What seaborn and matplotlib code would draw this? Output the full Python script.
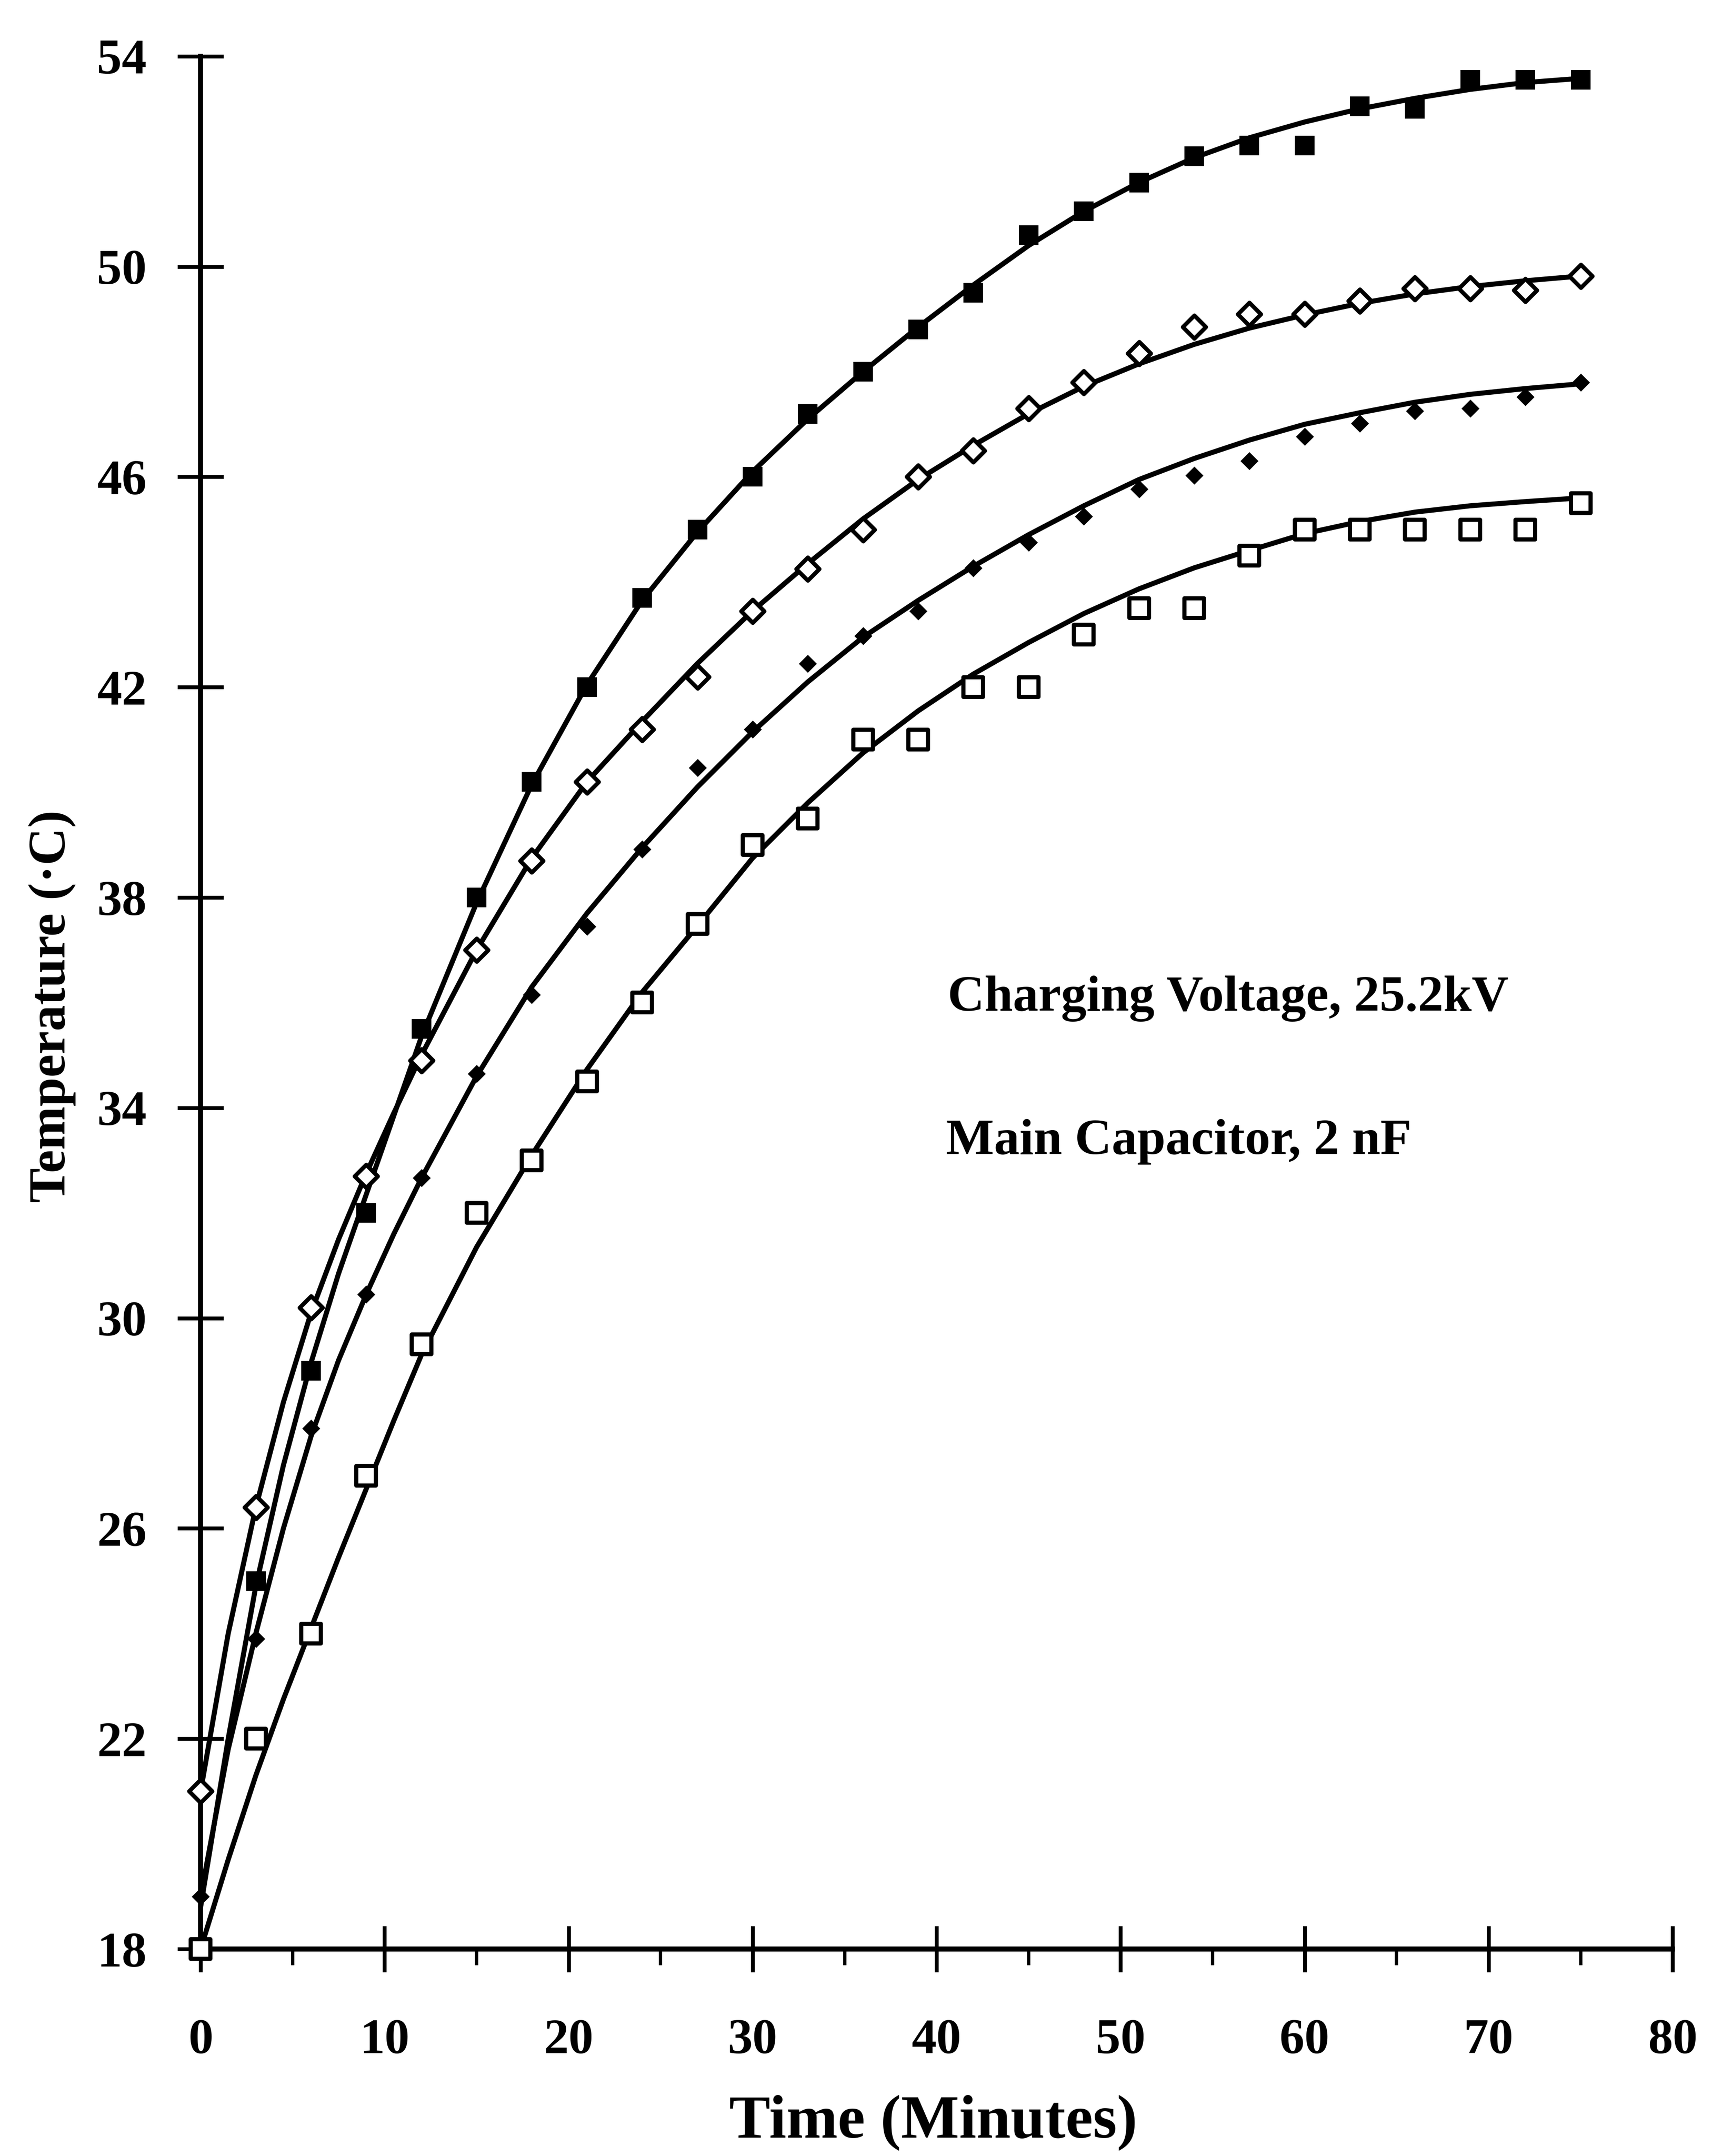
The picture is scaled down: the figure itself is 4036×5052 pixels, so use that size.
import matplotlib
matplotlib.use("Agg")
import matplotlib.pyplot as plt
import seaborn as sns
import pandas as pd
from matplotlib.ticker import FixedLocator

# ---------------- data ----------------
time_min = [0, 3, 6, 9, 12, 15, 18, 21, 24, 27, 30, 33, 36, 39, 42, 45,
            48, 51, 54, 57, 60, 63, 66, 69, 72, 75]

temp_filled_square = [18, 25, 29, 32, 35.5, 38, 40.2, 42, 43.7, 45, 46, 47.2,
                      48, 48.8, 49.5, 50.6, 51.05, 51.6, 52.1, 52.3, 52.3,
                      53.05, 53.0, 53.55, 53.55, 53.55]
temp_open_diamond = [21, 26.4, 30.2, 32.7, 34.9, 37, 38.7, 40.2, 41.2, 42.2,
                     43.45, 44.25, 45.0, 46.0, 46.5, 47.3, 47.8, 48.35, 48.85,
                     49.1, 49.1, 49.35, 49.58, 49.58, 49.55, 49.82]
temp_filled_diamond = [19, 23.9, 27.9, 30.45, 32.67, 34.65, 36.15, 37.45,
                       38.92, 40.47, 41.2, 42.45, 42.98, 43.45, 44.27, 44.75,
                       45.25, 45.77, 46.03, 46.3, 46.77, 47.02, 47.25, 47.3,
                       47.52, 47.8]
temp_open_square = [18, 22, 24, 27, 29.5, 32, 33, 34.5, 36, 37.5, 39, 39.5,
                    41, 41, 42, 42, 43, 43.5, 43.5, 44.5, 45, 45, 45, 45, 45,
                    45.5]

# fitted curves at these times
fit_time = [0, 1.5, 3, 4.5, 6, 7.5, 9, 10.5, 12, 15, 18, 21, 24, 27, 30, 33,
            36, 39, 42, 45, 48, 51, 54, 57, 60, 63, 66, 69, 72, 75]
fit_filled_square = [18.8, 22.0, 24.9, 27.2, 29.15, 30.85, 32.35, 33.85, 35.35,
                     37.9, 40.15, 42.05, 43.65, 44.95, 46.1, 47.1, 48.0, 48.85,
                     49.65, 50.4, 51.05, 51.6, 52.07, 52.45, 52.75, 53.0, 53.2,
                     53.37, 53.5, 53.58]
fit_open_diamond = [21.0, 24.0, 26.4, 28.4, 30.1, 31.5, 32.75, 33.9, 35.0,
                    37.0, 38.75, 40.2, 41.35, 42.45, 43.45, 44.35, 45.2, 45.95,
                    46.6, 47.2, 47.72, 48.15, 48.52, 48.83, 49.08, 49.3, 49.48,
                    49.62, 49.73, 49.82]
fit_filled_diamond = [19.0, 21.8, 24.0, 26.0, 27.75, 29.2, 30.45, 31.6, 32.66,
                      34.6, 36.3, 37.7, 38.95, 40.1, 41.15, 42.1, 42.95, 43.65,
                      44.3, 44.9, 45.45, 45.95, 46.35, 46.7, 47.0, 47.22, 47.42,
                      47.57, 47.68, 47.77]
fit_open_square = [18.0, 19.7, 21.3, 22.75, 24.1, 25.45, 26.75, 28.05, 29.3,
                   31.35, 33.1, 34.73, 36.2, 37.46, 38.75, 39.8, 40.75, 41.55,
                   42.25, 42.85, 43.4, 43.87, 44.27, 44.6, 44.92, 45.15, 45.33,
                   45.45, 45.53, 45.6]

x_ticks = [0, 10, 20, 30, 40, 50, 60, 70, 80]
x_minor_ticks = [5, 15, 25, 35, 45, 55, 65, 75]
y_ticks = [18, 22, 26, 30, 34, 38, 42, 46, 50, 54]

x_label = "Time (Minutes)"
y_label = "Temperature (\u00b7C)"
note_lines = ["Charging Voltage, 25.2kV", "Main Capacitor, 2 nF"]

# ---------------- style ----------------
sns.set_style("ticks", rc={
    "axes.edgecolor": "black", "text.color": "black",
    "xtick.color": "black", "ytick.color": "black",
    "axes.labelcolor": "black",
})
plt.rcParams["font.family"] = ["Liberation Serif", "DejaVu Serif"]
plt.rcParams["font.weight"] = "bold"

fig = plt.figure(figsize=(40.36, 50.52), dpi=100)
ax = fig.add_axes([0.1165, 0.096, 0.8548, 0.8779])

LW = 8.5
fits = [fit_filled_square, fit_open_diamond, fit_filled_diamond, fit_open_square]
for f in fits:
    sns.lineplot(x=fit_time, y=f, ax=ax, color="black", linewidth=LW,
                 zorder=2, clip_on=False, estimator=None, sort=False)

markers = [
    (temp_filled_square, "s", 1050, "black", 0),
    (temp_open_diamond, "D", 760, "white", 7.0),
    (temp_filled_diamond, "D", 460, "black", 0),
    (temp_open_square, "s", 1100, "white", 7.0),
]
for vals, m, s, fc, ew in markers:
    sns.scatterplot(x=time_min, y=vals, ax=ax, marker=m, s=s, color=fc,
                    edgecolor="black", linewidth=ew, zorder=3, clip_on=False)

ax.set_xlim(0, 80)
ax.set_ylim(18, 54)
ax.set_xticks(x_ticks)
ax.set_xticklabels([str(v) for v in x_ticks])
ax.set_yticks(y_ticks)
ax.set_yticklabels([str(v) for v in y_ticks])
ax.xaxis.set_minor_locator(FixedLocator(x_minor_ticks))

for side in ["top", "right"]:
    ax.spines[side].set_visible(False)
for side in ["left", "bottom"]:
    ax.spines[side].set_linewidth(8.5)

ax.tick_params(axis="both", which="major", direction="inout", length=78,
               width=6.5, labelsize=84)
ax.tick_params(axis="x", which="major", pad=78)
ax.tick_params(axis="y", which="major", pad=52)
ax.tick_params(axis="x", which="minor", direction="out", length=27, width=5.5)

ax.set_xlabel(x_label, fontsize=104, fontweight="bold", va="baseline")
ax.xaxis.set_label_coords(0.4977, -0.0995)
ax.set_ylabel(y_label, fontsize=88, fontweight="bold", va="center")
ax.yaxis.set_label_coords(-0.101, 0.498)

ax.text(40.6, 35.85, note_lines[0], fontsize=86, fontweight="bold",
        ha="left", va="baseline")
ax.text(40.5, 33.12, note_lines[1], fontsize=86, fontweight="bold",
        ha="left", va="baseline")

fig.savefig("out.png", dpi=100, facecolor="white")
